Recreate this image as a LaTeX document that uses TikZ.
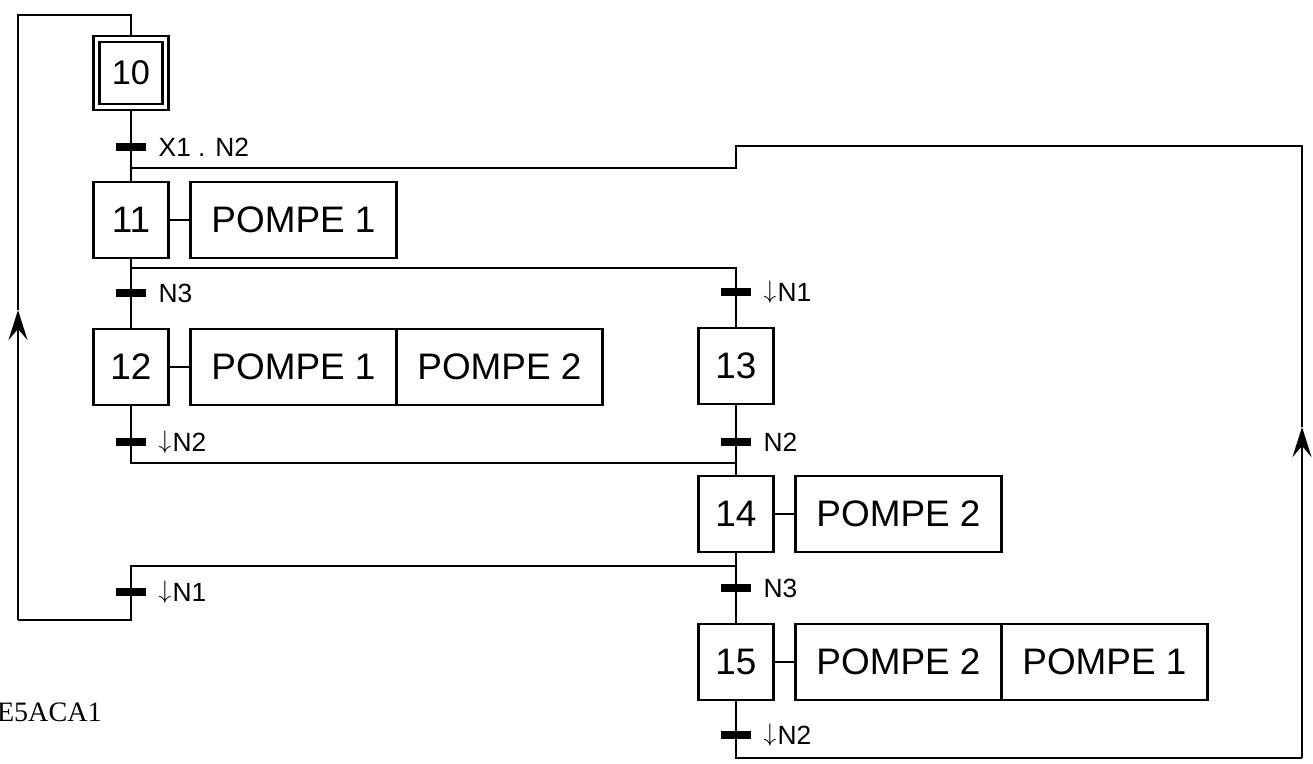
\documentclass[tikz,border=0pt]{standalone}
\usepackage{fontspec}
\setmainfont{Liberation Sans}
\newfontfamily\codefont{Liberation Serif}
\usetikzlibrary{arrows.meta, positioning}
\newcommand\falling{\raisebox{0.12em}{$\mathsurround=0pt\downarrow$}\kern0.05em}
\tikzset{
  stepbox/.style={rectangle, draw, line width=1.6pt, minimum width=1.5cm, minimum height=1.52cm,
              inner sep=0pt, outer sep=0pt, font=\fontsize{21}{25}\selectfont},
  initstep/.style={rectangle, draw, double, double distance=2pt, line width=1.4pt,
              minimum width=1.38cm, minimum height=1.36cm, inner sep=0pt, outer sep=2.4pt,
              font=\fontsize{19.5}{23}\selectfont},
  actbox/.style={rectangle, draw, line width=1.6pt, minimum width=4.12cm, minimum height=1.52cm,
              inner sep=0pt, outer sep=0pt, font=\fontsize{21}{25}\selectfont},
  trans/.style={rectangle, fill=black, minimum width=0.6cm, minimum height=0.15cm, inner sep=0pt},
  tlabel/.style={inner sep=0pt, text height=10.7pt, text depth=0pt, font=\fontsize{15}{18}\selectfont},
  link/.style={line width=1.6pt},
  uparrow/.style={link, -{Stealth[length=0.6cm, width=0.38cm, inset=0.22cm]}},
}
\begin{document}
\begin{tikzpicture}[x=0.02cm, y=-0.02cm]
    \useasboundingbox (0,0) rectangle (1313,764);

    % steps
    \node[initstep] (s10) at (131,73) {10};
    \node[stepbox] (s11) at (131,220) {11};
    \node[stepbox] (s12) at (131,367) {12};
    \node[stepbox] (s13) at (736,366) {13};
    \node[stepbox] (s14) at (736,514) {14};
    \node[stepbox] (s15) at (736,662) {15};

    % actions
    \node[actbox, right=0.44cm of s11] (a11) {POMPE 1};
    \node[actbox, right=0.44cm of s12] (a12) {POMPE 1};
    \node[actbox, right=0cm of a12] (a12b) {POMPE 2};
    \node[actbox, right=0.44cm of s14] (a14) {POMPE 2};
    \node[actbox, right=0.44cm of s15] (a15) {POMPE 2};
    \node[actbox, right=0cm of a15] (a15b) {POMPE 1};
    \foreach \s/\a in {s11/a11, s12/a12, s14/a14, s15/a15}
        \draw[link] (\s) -- (\a);

    % corner points of the links
    \coordinate (topL) at (18,15);
    \coordinate (topA) at (131,15);
    \coordinate (botL) at (18,620);
    \coordinate (botA) at (131,620);
    \coordinate (arrL) at (18,310);
    \coordinate (jOr) at (131,168);
    \coordinate (jOrB) at (736,168);
    \coordinate (retB) at (736,146);
    \coordinate (retR) at (1302,146);
    \coordinate (arrR) at (1302,427);
    \coordinate (endR) at (1302,758);
    \coordinate (endB) at (736,758);
    \coordinate (divA) at (131,268);
    \coordinate (divB) at (736,268);
    \coordinate (conA) at (131,463);
    \coordinate (conB) at (736,463);
    \coordinate (div2A) at (131,566);
    \coordinate (div2B) at (736,566);

    % links
    \draw[link] (s10) -- (s11);
    \draw[link] (s11) -- (s12);
    \draw[link] (s13) -- (s14);
    \draw[link] (s14) -- (s15);
    \draw[link] (divA) -- (divB) -- (s13);
    \draw[link] (s12) -- (conA) -- (conB);
    \draw[link] (div2B) -- (div2A) -- (botA) -- (botL);
    \draw[uparrow] (botL) -- (arrL);
    \draw[link] (arrL) -- (topL) -- (topA) -- (s10);
    \draw[link] (s15) -- (endB) -- (endR);
    \draw[uparrow] (endR) -- (arrR);
    \draw[link] (arrR) -- (retR) -- (retB) -- (jOrB) -- (jOr);

    % transitions
    \node[trans] (t1) at (131,147) {};
    \node[trans] (t2) at (131,293) {};
    \node[trans] (t3) at (736,292) {};
    \node[trans] (t4) at (131,442) {};
    \node[trans] (t5) at (736,442) {};
    \node[trans] (t6) at (131,592) {};
    \node[trans] (t7) at (736,588) {};
    \node[trans] (t8) at (736,735) {};
    \foreach \t/\txt in {t1/X1 . N2, t2/N3, t3/\falling N1, t4/\falling N2,
                         t5/N2, t6/\falling N1, t7/N3, t8/\falling N2}
        \node[tlabel, right=0.24cm of \t] (l\t) {\txt};

    \node[anchor=base east, inner sep=0pt, font=\codefont\fontsize{16}{19}\selectfont]
        (ref) at (102,721) {E5ACA1};
\end{tikzpicture}
\end{document}
